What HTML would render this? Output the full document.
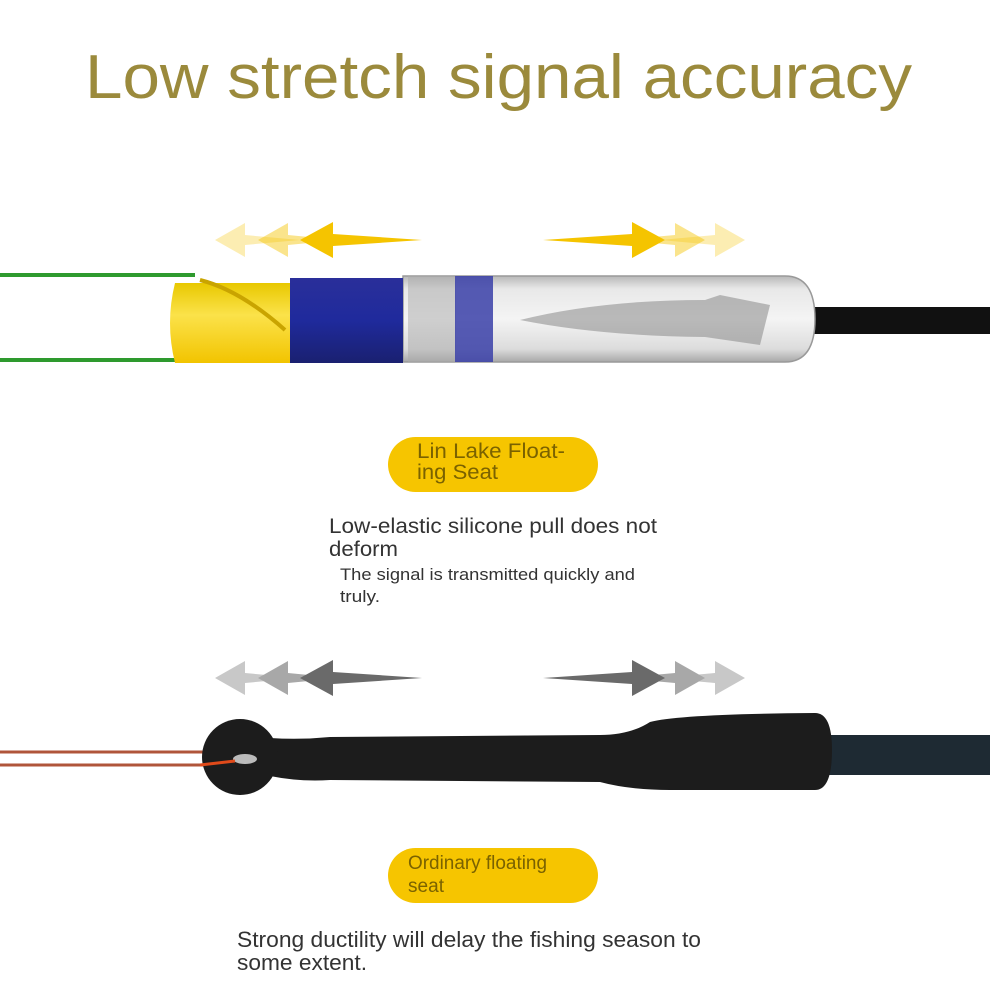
<!DOCTYPE html>
<html><head><meta charset="utf-8"><style>html,body{margin:0;padding:0;background:#fff}svg{display:block}</style></head>
<body>
<svg width="1000" height="1000" viewBox="0 0 1000 1000" xmlns="http://www.w3.org/2000/svg" font-family="Liberation Sans, sans-serif">
<defs>
<linearGradient id="tube" x1="0" y1="0" x2="0" y2="1">
<stop offset="0" stop-color="#b8b8b8"/><stop offset="0.15" stop-color="#e8e8e8"/><stop offset="0.5" stop-color="#f4f4f4"/><stop offset="0.85" stop-color="#dcdcdc"/><stop offset="1" stop-color="#a8a8a8"/></linearGradient>
<linearGradient id="yel" x1="0" y1="0" x2="0" y2="1">
<stop offset="0" stop-color="#e8c800"/><stop offset="0.4" stop-color="#fbe24a"/><stop offset="1" stop-color="#f2c400"/></linearGradient>
<linearGradient id="blu" x1="0" y1="0" x2="0" y2="1">
<stop offset="0" stop-color="#2a2f9a"/><stop offset="0.5" stop-color="#1f2a9c"/><stop offset="1" stop-color="#1a2070"/></linearGradient>
</defs>
<text x="85" y="98" font-size="62" fill="#9b8a3c" textLength="827" lengthAdjust="spacingAndGlyphs">Low stretch signal accuracy</text>

<!-- top arrows -->
<g fill="#f5c400">
<polygon points="215,240 245,223 245,235 300,240 245,245 245,257" opacity="0.3"/>
<polygon points="258,240 288,223 288,235 340,240 288,245 288,257" opacity="0.45"/>
<polygon points="300,240 333,222 333,234 422,240 333,246 333,258"/>
<polygon points="745,240 715,223 715,235 660,240 715,245 715,257" opacity="0.3"/>
<polygon points="705,240 675,223 675,235 620,240 675,245 675,257" opacity="0.45"/>
<polygon points="665,240 632,222 632,234 543,240 632,246 632,258"/>
</g>

<!-- top float -->
<path d="M0,275 H195 M0,360 H195" stroke="#2e9a2e" stroke-width="4" fill="none"/>
<rect x="810" y="307" width="180" height="27" fill="#111"/>
<path d="M403,276 H785 Q815,276 815,319 Q815,362 785,362 H403 Z" fill="url(#tube)" stroke="#999" stroke-width="1.5"/>
<rect x="408" y="276" width="48" height="86" fill="#aaa" opacity="0.5"/>
<rect x="455" y="276" width="38" height="86" fill="#3a3fa8" opacity="0.85"/>
<path d="M520,320 Q600,300 705,300 L720,295 L770,305 L760,345 L705,337 Q600,336 520,320Z" fill="#888" opacity="0.55"/>
<rect x="290" y="278" width="113" height="85" fill="url(#blu)"/>
<path d="M175,283 H290 V363 H175 Q165,323 175,283Z" fill="url(#yel)"/>
<path d="M200,280 Q240,290 285,330" stroke="#c9a400" stroke-width="4" fill="none"/>

<!-- pill 1 -->
<rect x="388" y="437" width="210" height="55" rx="27.5" fill="#f6c500"/>
<g font-size="21" fill="#7a6200" lengthAdjust="spacingAndGlyphs">
<text x="417" y="458" textLength="148" lengthAdjust="spacingAndGlyphs">Lin Lake Float-</text>
<text x="417" y="479" textLength="81" lengthAdjust="spacingAndGlyphs">ing Seat</text>
</g>
<g font-size="21" fill="#333">
<text x="329" y="533" textLength="328" lengthAdjust="spacingAndGlyphs">Low-elastic silicone pull does not</text>
<text x="329" y="556" textLength="69" lengthAdjust="spacingAndGlyphs">deform</text>
</g>
<g font-size="17" fill="#333">
<text x="340" y="580" textLength="295" lengthAdjust="spacingAndGlyphs">The signal is transmitted quickly and</text>
<text x="340" y="602" textLength="40" lengthAdjust="spacingAndGlyphs">truly.</text>
</g>

<!-- bottom arrows -->
<g>
<polygon points="215,678 245,661 245,673 300,678 245,683 245,695" fill="#c8c8c8"/>
<polygon points="258,678 288,661 288,673 340,678 288,683 288,695" fill="#a8a8a8"/>
<polygon points="300,678 333,660 333,672 422,678 333,684 333,696" fill="#6a6a6a"/>
<polygon points="745,678 715,661 715,673 660,678 715,683 715,695" fill="#c8c8c8"/>
<polygon points="705,678 675,661 675,673 620,678 675,683 675,695" fill="#a8a8a8"/>
<polygon points="665,678 632,660 632,672 543,678 632,684 632,696" fill="#6a6a6a"/>
</g>

<!-- bottom float -->
<path d="M0,752 H210 M0,765 H210" stroke="#b0553a" stroke-width="3" fill="none"/>
<rect x="825" y="735" width="165" height="40" fill="#1e2a33"/>
<path d="M270,738 Q300,740 330,737 L600,735 Q630,735 650,722 Q680,714 815,713 Q832,713 832,750 Q832,790 815,790 L670,790 Q630,790 600,782 L330,780 Q300,782 270,776 Z" fill="#1c1c1c"/>
<circle cx="240" cy="757" r="38" fill="#1c1c1c"/>
<ellipse cx="245" cy="759" rx="12" ry="5" fill="#bbb"/>
<path d="M200,765 L235,761" stroke="#e04a1a" stroke-width="3"/>

<!-- pill 2 -->
<rect x="388" y="848" width="210" height="55" rx="27.5" fill="#f6c500"/>
<g font-size="19" fill="#7a6200">
<text x="408" y="869" textLength="139" lengthAdjust="spacingAndGlyphs">Ordinary floating</text>
<text x="408" y="892" textLength="36" lengthAdjust="spacingAndGlyphs">seat</text>
</g>
<g font-size="22" fill="#333">
<text x="237" y="947" textLength="464" lengthAdjust="spacingAndGlyphs">Strong ductility will delay the fishing season to</text>
<text x="237" y="970" textLength="130" lengthAdjust="spacingAndGlyphs">some extent.</text>
</g>
</svg>
</body></html>
